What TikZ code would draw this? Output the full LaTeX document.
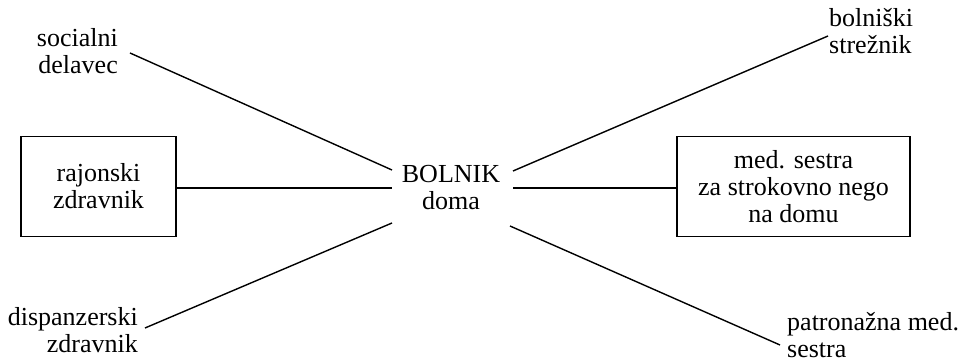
\documentclass[tikz,border=0pt]{standalone}
\usepackage{fontspec}
\setmainfont{Liberation Serif}
\begin{document}
\begin{tikzpicture}[x=1pt,y=-1pt,
  lbl/.style={inner sep=0pt,font=\fontsize{26}{27}\selectfont},
  boxnode/.style={draw,line width=1.8pt,minimum width=#1,minimum height=100pt,inner sep=0pt,align=center,font=\fontsize{26}{27}\selectfont},
  conn/.style={line width=1.4pt}]
\useasboundingbox (0,0) rectangle (967,363);
% center
\node[lbl,align=center] (pat) at (451,188) {BOLNIK\\doma};
% boxes
\node[boxnode=155pt] (rz) at (98.5,186.5) {rajonski\\zdravnik};
\node[boxnode=233pt] (ms) at (793.5,186.5) {med. sestra\\za strokovno nego\\na domu};
% outer labels
\node[lbl,align=right,anchor=east] (sd) at (118,51) {socialni\\delavec};
\node[lbl,align=right,anchor=east] (dz) at (138,330) {dispanzerski\\zdravnik};
\node[lbl,align=left,anchor=west] (bs) at (829,31) {bolniški\\strežnik};
\node[lbl,align=left,anchor=west] (pm) at (787,335) {patronažna med.\\sestra};
% line ends
\coordinate (sdE) at (130,53);
\coordinate (dzE) at (145,328);
\coordinate (bsE) at (828,36);
\coordinate (pmE) at (780,345);
\coordinate (pUL) at (392,170);
\coordinate (pL) at (392,188);
\coordinate (pDL) at (392,223);
\coordinate (pUR) at (513,171);
\coordinate (pR) at (513,188);
\coordinate (pDR) at (510,226);
% connectors
\draw[conn] (sdE) -- (pUL);
\draw[conn] (rz.east |- pL) -- (pL);
\draw[conn] (dzE) -- (pDL);
\draw[conn] (pUR) -- (bsE);
\draw[conn] (pR) -- (ms.west |- pR);
\draw[conn] (pDR) -- (pmE);
\end{tikzpicture}
\end{document}
